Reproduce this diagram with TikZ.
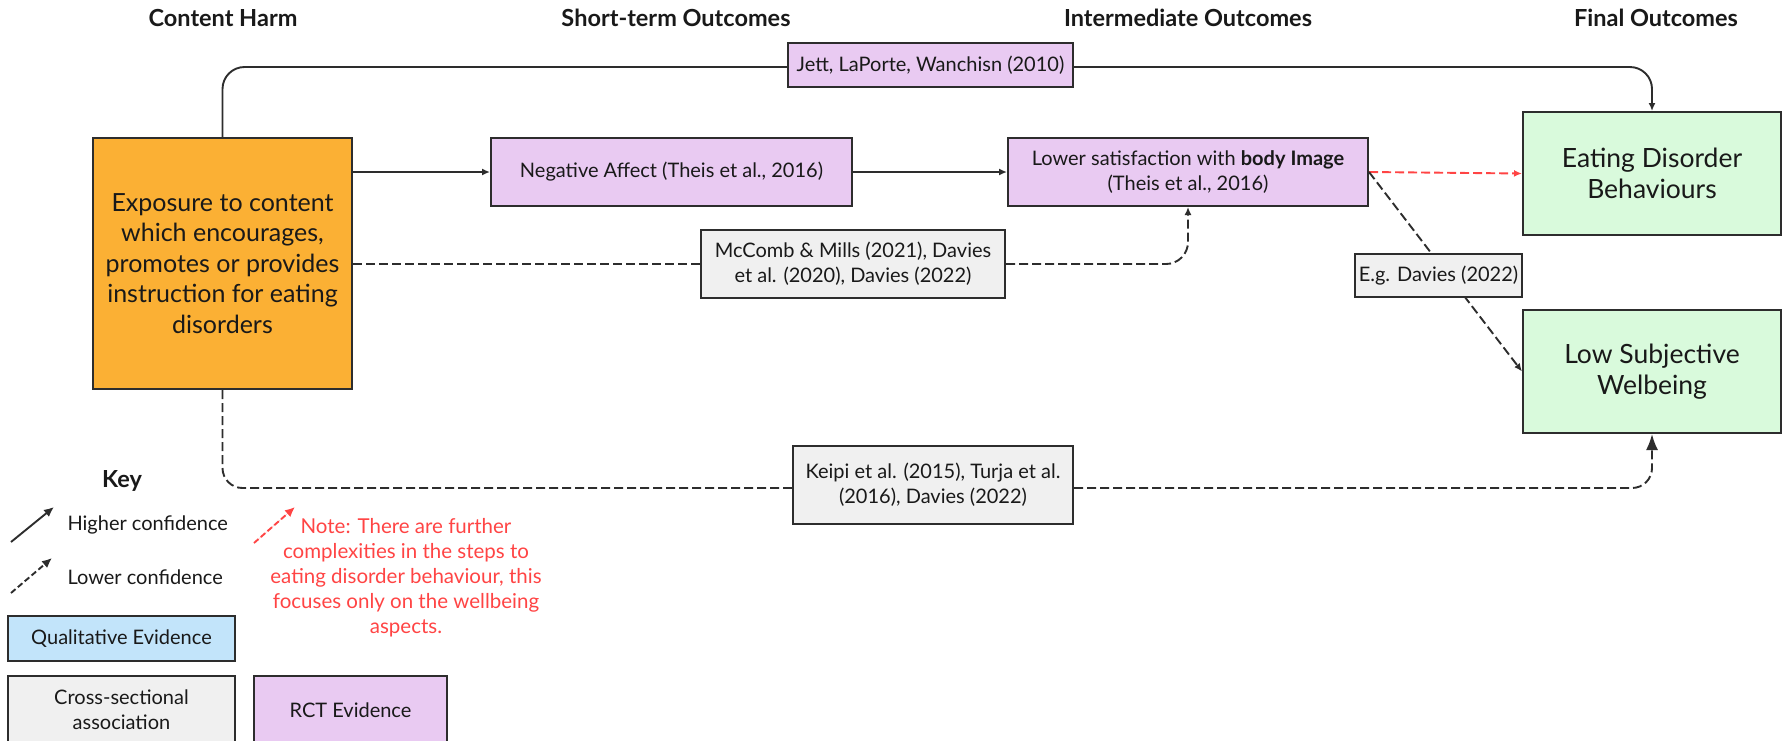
\documentclass[tikz,border=0pt]{standalone}
\usepackage{fontspec}
\setmainfont{Lato}
\usetikzlibrary{arrows.meta}

\definecolor{harm}{RGB}{251,176,52}
\definecolor{rct}{RGB}{233,202,242}
\definecolor{crossfill}{RGB}{240,240,240}
\definecolor{finalfill}{RGB}{217,250,220}
\definecolor{qualfill}{RGB}{194,228,250}
\definecolor{edgegrey}{RGB}{45,45,45}
\definecolor{notered}{RGB}{255,68,68}
\definecolor{ink}{RGB}{25,25,25}

\tikzset{
  box/.style={draw=edgegrey, line width=2pt, align=center, inner sep=0pt, text=ink,
    font=\fontsize{20}{25}\selectfont},
  rctbox/.style={box, fill=rct},
  crossbox/.style={box, fill=crossfill},
  qualbox/.style={box, fill=qualfill},
  harmbox/.style={box, fill=harm, font=\fontsize{25}{30.5}\selectfont},
  finalbox/.style={box, fill=finalfill, font=\fontsize{26.5}{31.5}\selectfont},
  heading/.style={text=ink, font=\bfseries\fontsize{23.5}{26}\selectfont},
  keytext/.style={text=ink, font=\fontsize{20}{24}\selectfont},
  link/.style={draw=edgegrey, line width=1.9pt},
  conn/.style={link, -{Latex[length=8pt,width=7pt]}},
  weaklink/.style={link, dash pattern=on 9pt off 4pt},
  weak/.style={weaklink, -{Latex[length=8pt,width=7pt]}},
  bigweak/.style={weaklink, -{Latex[length=16pt,width=12pt]}},
  redweak/.style={link, draw=notered, dash pattern=on 9pt off 4pt, -{Latex[length=8pt,width=7pt]}},
  keyarrow/.style={link, -{Latex[length=10pt,width=9pt]}},
}

\begin{document}
\begin{tikzpicture}[x=1pt, y=-1pt]
  \clip (0,0) rectangle (1782,740);

  % column headings
  \node[heading] (h1) at (223,18) {Content Harm};
  \node[heading] (h2) at (676,18) {Short-term Outcomes};
  \node[heading] (h3) at (1188,18) {Intermediate Outcomes};
  \node[heading] (h4) at (1656,18) {Final Outcomes};

  % main boxes
  \node[harmbox, minimum width=259pt, minimum height=251pt] (harm) at (222.5,263.5)
    {Exposure to content\\which encourages,\\promotes or provides\\instruction for eating\\disorders};
  \node[rctbox, minimum width=361pt, minimum height=68pt] (na) at (671.5,172)
    {Negative Affect (Theis et al., 2016)};
  \node[rctbox, minimum width=360pt, minimum height=68pt] (ls) at (1188,172)
    {Lower satisfaction with \textbf{body Image}\\(Theis et al., 2016)};
  \node[finalbox, minimum width=258pt, minimum height=123pt] (ed) at (1652,173.5)
    {Eating Disorder\\Behaviours};
  \node[finalbox, minimum width=258pt, minimum height=123pt] (lsw) at (1652,371.5)
    {Low Subjective\\Welbeing};

  % evidence labels sitting on the connectors
  \node[rctbox, minimum width=285pt, minimum height=44pt] (jett) at (930.5,65)
    {Jett, LaPorte, Wanchisn (2010)};
  \node[crossbox, minimum width=304pt, minimum height=68pt] (mcc) at (853,264)
    {McComb \& Mills (2021), Davies\\et al. (2020), Davies (2022)};
  \node[crossbox, minimum width=280pt, minimum height=78pt] (keipi) at (933,485)
    {Keipi et al. (2015), Turja et al.\\(2016), Davies (2022)};

  % connectors
  \coordinate (topleft) at ([yshift=-2pt]jett.west);
  \coordinate (topright) at ([yshift=-2pt]jett.east);
  \coordinate (botleft) at ([yshift=-3pt]keipi.west);
  \coordinate (botright) at ([yshift=-3pt]keipi.east);
  \draw[link, rounded corners=22pt] (harm.north) |- (topleft);
  \draw[conn, rounded corners=22pt] (topright) -| (ed.north);
  \draw[conn] (harm.east |- na.west) -- (na.west);
  \draw[conn] (na.east) -- (ls.west);
  \draw[weaklink] (harm.east |- mcc.west) -- (mcc.west);
  \draw[weak, rounded corners=22pt] (mcc.east) -| (ls.south);
  \draw[redweak] (ls.east) -- (ed.west);
  \draw[weak] (ls.east) -- (lsw.west);
  \node[crossbox, minimum width=167pt, minimum height=43pt] (eg) at (1438.5,275.5)
    {E.g. Davies (2022)};
  \draw[weaklink, rounded corners=20pt] (harm.south) |- (botleft);
  \draw[bigweak, rounded corners=20pt] (botright) -| (lsw.south);

  % key
  \node[heading] (key) at (122,481) {Key};
  \coordinate (hiA) at (11,542);
  \coordinate (hiB) at (54,507);
  \draw[keyarrow] (hiA) -- (hiB);
  \node[keytext, anchor=west] (hitxt) at (64,525) {Higher confidence};
  \coordinate (loA) at (11,593);
  \coordinate (loB) at (52,558);
  \draw[keyarrow, dash pattern=on 6pt off 3pt] (loA) -- (loB);
  \node[keytext, anchor=west] (lotxt) at (64,577) {Lower confidence};
  \coordinate (rdA) at (254,543);
  \coordinate (rdB) at (295,507);
  \draw[keyarrow, draw=notered, fill=notered, dash pattern=on 6pt off 3pt] (rdA) -- (rdB);
  \node[align=center, text=notered, font=\fontsize{20.5}{25}\selectfont] (note) at (406,578)
    {Note: There are further\\complexities in the steps to\\eating disorder behaviour, this\\focuses only on the wellbeing\\aspects.};
  \node[qualbox, minimum width=227pt, minimum height=45pt] (qual) at (121.5,638.5)
    {Qualitative Evidence};
  \node[crossbox, minimum width=227pt, minimum height=68pt] (crosskey) at (121.5,710)
    {Cross-sectional\\association};
  \node[rctbox, minimum width=193pt, minimum height=68pt] (rctkey) at (350.5,710)
    {RCT Evidence};
\end{tikzpicture}
\end{document}
